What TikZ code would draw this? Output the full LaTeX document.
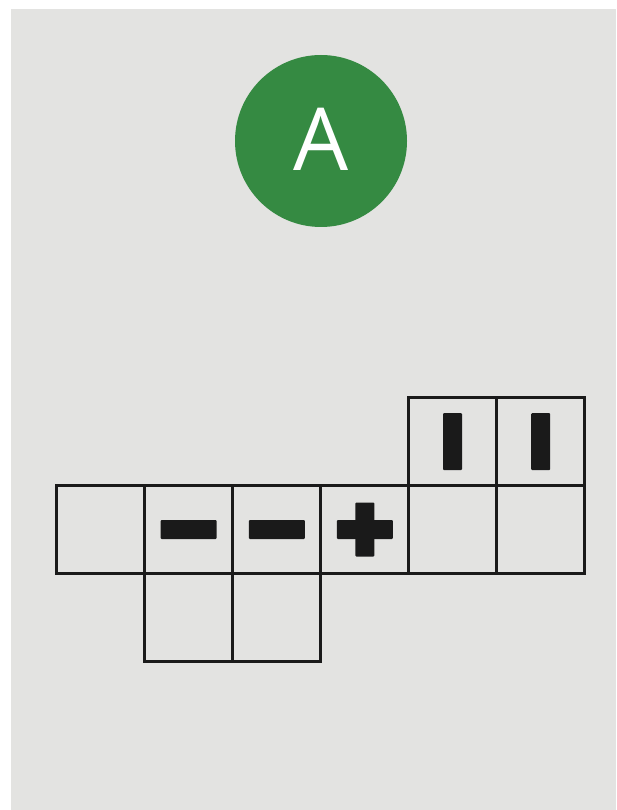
\documentclass[tikz,border=0pt]{standalone}
\usepackage{fontspec}
\newfontfamily\labelfont{Open Sans}
\definecolor{bggray}{HTML}{E3E3E1}
\definecolor{badgegreen}{HTML}{358A42}
\definecolor{ink}{HTML}{1A1A1A}
\begin{document}
\begin{tikzpicture}[x=1pt,y=-1pt,
  cell/.style={draw=ink,line width=3pt,minimum width=88.2pt,minimum height=88pt,inner sep=0pt,outer sep=0pt},
  hbar/.style={fill=ink,minimum width=56pt,minimum height=19pt,inner sep=0pt,rounded corners=1pt},
  vbar/.style={fill=ink,minimum width=19pt,minimum height=57pt,inner sep=0pt,rounded corners=1pt},
  vplus/.style={fill=ink,minimum width=19pt,minimum height=54pt,inner sep=0pt,rounded corners=1pt}]
\useasboundingbox (0,0) rectangle (616,810);
\fill[white] (0,0) rectangle (616,810);
\fill[bggray] (11,9) rectangle (616,810);
% badge
\node[circle,fill=badgegreen,minimum size=172pt,inner sep=0pt] (badge) at (321,141) {};
\node[text=white,font=\labelfont\fontsize{87}{87}\selectfont,inner sep=0pt] (letter) at (321,139) {A};
% middle row
\node[cell] (c1) at (100.25,529.5) {};
\node[cell] (c2) at (188.6,529.5) {};
\node[cell] (c3) at (276.8,529.5) {};
\node[cell] (c4) at (364.8,529.5) {};
\node[cell] (c5) at (452.5,529.5) {};
\node[cell] (c6) at (540.7,529.5) {};
% top row
\node[cell] (t5) at (452.5,441.7) {};
\node[cell] (t6) at (540.7,441.7) {};
% bottom row
\node[cell] (b2) at (188.6,617.3) {};
\node[cell] (b3) at (276.8,617.3) {};
% symbols
\node[hbar] (m1) at (c2.center) {};
\node[hbar] (m2) at (c3.center) {};
\node[hbar] (p1) at (c4.center) {};
\node[vplus] (p2) at (c4.center) {};
\node[vbar] (v1) at (t5.center) {};
\node[vbar] (v2) at (t6.center) {};
\end{tikzpicture}
\end{document}
